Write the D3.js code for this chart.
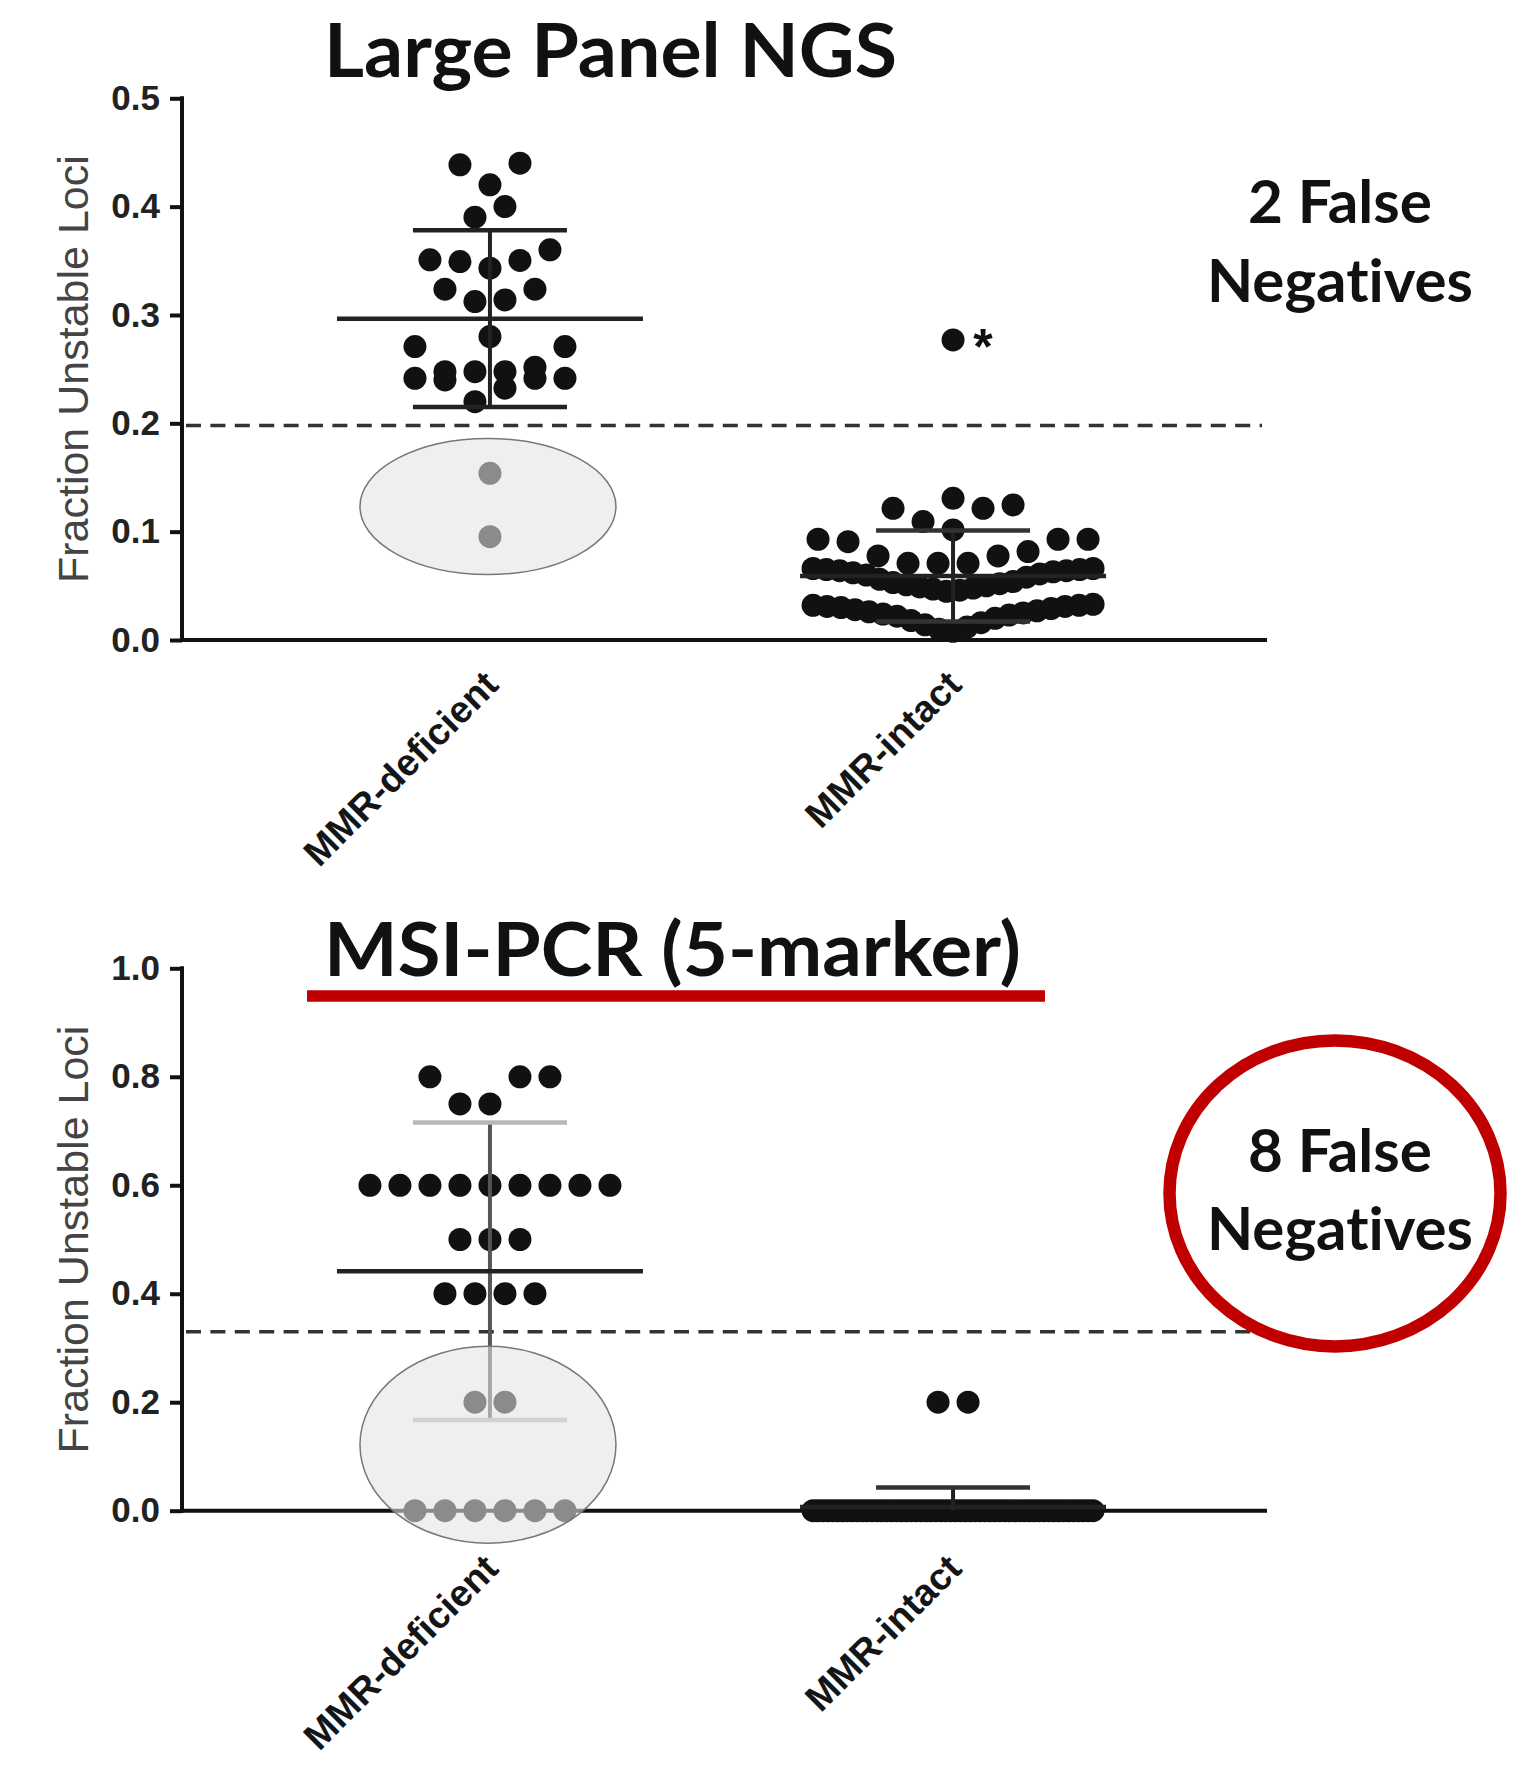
<!DOCTYPE html>
<html>
<head>
<meta charset="utf-8">
<script src="https://cdn.jsdelivr.net/npm/d3@7"></script>
<style>
  body { margin: 0; background: #fff; }
  svg { display: block; }
  text { font-variant-ligatures: none; }
</style>
</head>
<body>
<script>
// categories on the x axis
var categories = ["MMR-deficient", "MMR-intact"];

// Large Panel NGS : fraction of unstable loci per tumour
var ngsDeficient = [0.4401, 0.4386, 0.4201, 0.4001, 0.3903, 0.3601, 0.3509, 0.3503, 0.3493, 0.3432,
    0.3238, 0.3238, 0.3139, 0.3124, 0.2801, 0.2708, 0.2708, 0.2518, 0.2477, 0.2477, 0.2477,
    0.2416, 0.2416, 0.2416, 0.2401, 0.2324, 0.2200, 0.1539, 0.0954];
var ngsIntact = [0.277, 0.1308, 0.1247, 0.1216, 0.1216, 0.1093, 0.1016,
    0.093, 0.093, 0.093, 0.0908, 0.0816, 0.0776, 0.0776, 0.0708, 0.0708, 0.0708,
    0.066, 0.066, 0.065, 0.065, 0.064, 0.064, 0.063, 0.062, 0.061, 0.060, 0.058,
    0.056, 0.054, 0.053, 0.052, 0.051, 0.050, 0.049, 0.048, 0.047, 0.046, 0.045,
    0.033, 0.032, 0.032, 0.031, 0.031, 0.030, 0.029, 0.028, 0.027, 0.026, 0.025,
    0.024, 0.023, 0.022, 0.020, 0.018, 0.016, 0.014, 0.012, 0.010, 0.008];
var ngsFlagged = [0.277];          // value marked with an asterisk
var ngsThreshold = 0.198;
var ngsTicks = [0, 0.1, 0.2, 0.3, 0.4, 0.5];

// MSI-PCR (5-marker)
var pcrDeficient = [0.8, 0.8, 0.8, 0.75, 0.75,
    0.6, 0.6, 0.6, 0.6, 0.6, 0.6, 0.6, 0.6, 0.6,
    0.5, 0.5, 0.5, 0.4, 0.4, 0.4, 0.4,
    0.2, 0.2, 0, 0, 0, 0, 0, 0];
var pcrIntact = [0.2, 0.2,
    0, 0, 0, 0, 0, 0, 0, 0, 0, 0, 0, 0, 0, 0, 0, 0, 0, 0, 0, 0,
    0, 0, 0, 0, 0, 0, 0, 0, 0, 0, 0, 0, 0, 0, 0, 0, 0, 0, 0, 0,
    0, 0, 0, 0, 0, 0, 0, 0, 0, 0, 0, 0, 0, 0, 0, 0, 0, 0];
var pcrThreshold = 0.33;
var pcrTicks = [0, 0.2, 0.4, 0.6, 0.8, 1.0];

var width = 1537,
    height = 1765;

var svg = d3.select("body")
    .append("svg")
    .attr("width", width)
    .attr("height", height);

var axisFont = "'Liberation Sans', Arial, sans-serif",
    titleFont = "Lato, 'Open Sans', sans-serif";

var x = d3.scalePoint()
    .domain(categories)
    .range([182, 1261])
    .padding(0.665);

var panels = [
    {
        title: "Large Panel NGS", titleY: 76.6, titleLen: 573, underline: false,
        groups: [ngsDeficient, ngsIntact], flagged: ngsFlagged,
        threshold: ngsThreshold, ticks: ngsTicks, max: 0.5,
        y0: 640, y1: 98.3, labelDy: 47,
        ellipse: [0.0605, 0.186],
        note: ["2 False", "Negatives"], noteY: [223, 302], circle: false,
        capColor: "#222", barColor: "#222"
    },
    {
        title: "MSI-PCR (5-marker)", titleY: 976, titleLen: 697, underline: true,
        groups: [pcrDeficient, pcrIntact], flagged: [],
        threshold: pcrThreshold, ticks: pcrTicks, max: 1.0,
        y0: 1510.7, y1: 968.3, labelDy: 60,
        ellipse: [-0.06, 0.303],
        note: ["8 False", "Negatives"], noteY: [1172, 1250], circle: true,
        capColor: "#b8b8b8", barColor: "#555"
    }
];

//spread points of one column into rows, smallest value in the middle (scatter dot plot)
function swarm(values, y, cx){
    var sorted = values.slice().sort(d3.ascending);
    var rows = [], row = null;
    sorted.forEach(function(v){
        if (!row || y(row[0]) - y(v) > 27.5) {
            row = [v];
            rows.push(row);
        } else {
            row.push(v);
        }
    });
    var pts = [];
    rows.forEach(function(r){
        var n = r.length;
        var step = n > 1 ? Math.min(30, 280 / (n - 1)) : 0;
        var slots = d3.range(n).map(function(i){ return (i - (n - 1) / 2) * step; });
        slots.sort(function(a, b){ return (Math.abs(a) - Math.abs(b)) || (a - b); });
        r.forEach(function(v, i){ pts.push({ v: v, x: cx + slots[i] }); });
    });
    return pts;
}

panels.forEach(function(p){
    var y = d3.scaleLinear()
        .domain([0, p.max])
        .range([p.y0, p.y1]);

    var g = svg.append("g");

    //title
    g.append("text")
        .attr("x", 324)
        .attr("y", p.titleY)
        .attr("textLength", p.titleLen)
        .attr("lengthAdjust", "spacingAndGlyphs")
        .style("font-family", titleFont)
        .style("font-weight", 700)
        .style("font-size", "75px")
        .style("fill", "#111")
        .text(p.title);

    if (p.underline) {
        g.append("line")
            .attr("x1", 307).attr("x2", 1045)
            .attr("y1", p.titleY + 20).attr("y2", p.titleY + 20)
            .style("stroke", "#c00000")
            .style("stroke-width", 11.7);
    }

    //y axis
    var yAxis = d3.axisLeft(y)
        .tickValues(p.ticks)
        .tickFormat(d3.format(".1f"))
        .tickSize(12)
        .tickSizeOuter(0)
        .tickPadding(10);

    var ya = g.append("g")
        .attr("transform", "translate(182,0)")
        .call(yAxis);
    ya.select(".domain").remove();
    ya.selectAll(".tick line").style("stroke", "#111").style("stroke-width", 4);
    ya.selectAll(".tick text")
        .style("font-family", axisFont)
        .style("font-weight", "bold")
        .style("font-size", "35px")
        .style("fill", "#222");

    g.append("line")
        .attr("x1", 182).attr("x2", 182)
        .attr("y1", y(p.max) - 2).attr("y2", y(0) + 2)
        .style("stroke", "#111").style("stroke-width", 4);

    //y axis title
    g.append("text")
        .attr("transform", "translate(88," + (y(0) + y(p.max)) / 2 + ") rotate(-90)")
        .style("text-anchor", "middle")
        .style("font-family", axisFont)
        .style("font-size", "43px")
        .style("fill", "#444")
        .text("Fraction Unstable Loci");

    //x axis with rotated labels
    var xa = g.append("g")
        .attr("transform", "translate(0," + y(0) + ")")
        .call(d3.axisBottom(x).tickSize(0));
    xa.select(".domain").remove();
    xa.selectAll(".tick text")
        .attr("x", 0).attr("y", 0).attr("dy", 0)
        .attr("transform", "translate(10," + p.labelDy + ") rotate(-45)")
        .style("text-anchor", "end")
        .style("font-family", axisFont)
        .style("font-weight", "bold")
        .style("font-size", "37.5px")
        .style("fill", "#151515");

    g.append("line")
        .attr("x1", 180).attr("x2", 1267)
        .attr("y1", y(0)).attr("y2", y(0))
        .style("stroke", "#111").style("stroke-width", 4);

    //threshold
    g.append("line")
        .attr("x1", 186).attr("x2", 1262)
        .attr("y1", y(p.threshold)).attr("y2", y(p.threshold))
        .style("stroke", "#333")
        .style("stroke-width", 3.5)
        .style("stroke-dasharray", "15,9.4");

    //dots and mean +/- SD for each column
    p.groups.forEach(function(vals, gi){
        var cx = x(categories[gi]);
        var pts = swarm(vals, y, cx);

        g.selectAll(".dot" + gi)
            .data(pts)
            .enter()
            .append("circle")
            .attr("class", "dot" + gi)
            .attr("cx", function(d){ return d.x; })
            .attr("cy", function(d){ return y(d.v); })
            .attr("r", 11.5)
            .style("fill", "#111");

        var m = d3.mean(vals),
            sd = d3.deviation(vals),
            hi = m + sd,
            lo = Math.max(0, m - sd);

        g.append("line")
            .attr("x1", cx).attr("x2", cx)
            .attr("y1", y(hi)).attr("y2", y(lo))
            .style("stroke", gi == 0 ? p.barColor : "#222")
            .style("stroke-width", 4);
        [hi, lo].forEach(function(v){
            if (m - sd < 0 && v == lo) return;
            g.append("line")
                .attr("x1", cx - 77).attr("x2", cx + 77)
                .attr("y1", y(v)).attr("y2", y(v))
                .style("stroke", gi == 0 ? p.capColor : "#333")
                .style("stroke-width", 4.5);
        });
        g.append("line")
            .attr("x1", cx - 153).attr("x2", cx + 153)
            .attr("y1", y(m)).attr("y2", y(m))
            .style("stroke", "#222")
            .style("stroke-width", 4.5);

        if (gi == 1) {
            p.flagged.forEach(function(v){
                g.append("text")
                    .attr("x", cx + 30)
                    .attr("y", y(v) + 24)
                    .style("text-anchor", "middle")
                    .style("font-family", axisFont)
                    .style("font-weight", "bold")
                    .style("font-size", "50px")
                    .style("fill", "#111")
                    .text("*");
            });
        }
    });

    //translucent ellipse over the false negatives
    g.append("ellipse")
        .attr("cx", x(categories[0]) - 2)
        .attr("cy", (y(p.ellipse[0]) + y(p.ellipse[1])) / 2)
        .attr("rx", 128)
        .attr("ry", (y(p.ellipse[0]) - y(p.ellipse[1])) / 2)
        .style("fill", "rgb(227,227,227)")
        .style("fill-opacity", 0.58)
        .style("stroke", "#777")
        .style("stroke-width", 1.5);

    //false negative note
    var lens = [184, 266];
    p.note.forEach(function(t, i){
        g.append("text")
            .attr("x", 1340)
            .attr("y", p.noteY[i])
            .attr("textLength", lens[i])
            .attr("lengthAdjust", "spacingAndGlyphs")
            .style("text-anchor", "middle")
            .style("font-family", titleFont)
            .style("font-weight", 700)
            .style("font-size", "60px")
            .style("fill", "#111")
            .text(t);
    });

    if (p.circle) {
        g.append("ellipse")
            .attr("cx", 1335)
            .attr("cy", 1193.4)
            .attr("rx", 165.5)
            .attr("ry", 153)
            .style("fill", "none")
            .style("stroke", "#c00000")
            .style("stroke-width", 12.5);
    }
});
</script>
</body>
</html>
